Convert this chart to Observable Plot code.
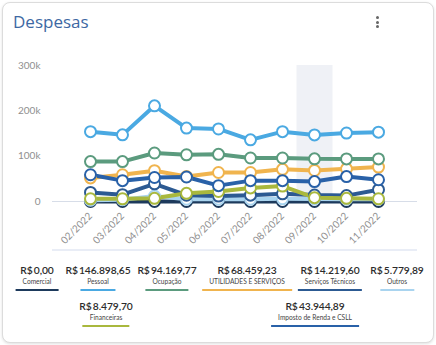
<!DOCTYPE html>
<html><head><meta charset="utf-8">
<script src="https://cdn.jsdelivr.net/npm/d3@7"></script>
<script src="https://cdn.jsdelivr.net/npm/@observablehq/plot@0.6"></script>
<style>
html,body{margin:0;padding:0;background:#fff;}
body{width:436px;height:345px;position:relative;overflow:hidden;font-family:Lato,sans-serif;}
#card{position:absolute;left:2px;top:2px;width:430px;height:339px;border:1px solid #dcdcdc;border-radius:8px;box-shadow:0 1px 3px rgba(0,0,0,0.12);background:#fff;}
#title{position:absolute;left:13px;top:10px;font-family:"Open Sans",sans-serif;font-size:17px;color:#3d68a3;}
#kebab{position:absolute;left:376px;top:16px;width:4px;}
#kebab span{display:block;width:3px;height:3px;border-radius:50%;background:#666;margin-bottom:1.5px;}
#chart{position:absolute;left:0;top:55px;}
#slider{position:absolute;left:52px;top:249px;width:365px;height:2px;background:#e9edf6;}
.item{position:absolute;transform:translateX(-50%);text-align:center;white-space:nowrap;font-size:7px;line-height:9px;}
.val{font-family:Lato,sans-serif;font-size:10.3px;font-weight:600;color:#2b2b2b;line-height:14px;letter-spacing:-0.1px;}
.lab{display:inline-block;font-family:Lato,sans-serif;font-size:6.6px;color:#444;padding:0 7px 3px 7px;margin-top:0px;border-bottom:2px solid;line-height:9px;}
</style></head>
<body>
<div id="card"></div>
<div id="title">Despesas</div>
<div id="kebab"><span></span><span></span><span></span></div>
<div id="chart"></div>
<div id="slider"></div>
<div id="legend"></div>
<script>
const months = ["02/2022","03/2022","04/2022","05/2022","06/2022","07/2022","08/2022","09/2022","10/2022","11/2022"];
const seriesNames = ["Comercial","Pessoal","Ocupação","UTILIDADES E SERVIÇOS","Serviços Técnicos","Outros","Financeiras","Imposto de Renda e CSLL"];
const seriesColors = ["#1d3a5c","#4aa9e2","#5b9b7e","#f0b44e","#2c5a92","#a9d4ef","#a9b83d","#2961a8"];
const comercial   = [0,0,0,0,0,0,0,0,0,0];
const pessoal     = [154000,147000,211000,162000,160000,136000,154000,146898.65,151000,153000];
const ocupacao    = [88000,88000,107000,103000,104000,96000,96000,94169.77,94000,94000];
const utilidades  = [52000,59000,68000,55000,64000,64000,71000,68459.23,72000,76000];
const servicosTec = [20000,15000,39000,14000,12000,14000,17000,14219.60,13000,26000];
const outros      = [3000,4000,12000,5000,5000,5000,6000,5779.89,5000,5000];
const financeiras = [6000,6000,7000,18000,22000,30000,34000,8479.70,7000,6000];
const imposto     = [59000,46000,53000,54000,35000,46000,46000,43944.89,55000,48000];
const legendValues = [0,146898.65,94169.77,68459.23,14219.60,5779.89,8479.70,43944.89];
const highlightMonth = "09/2022";
const yTicks = [0,100000,200000,300000];

const bySeries = {
  "Comercial": comercial, "Pessoal": pessoal, "Ocupação": ocupacao,
  "UTILIDADES E SERVIÇOS": utilidades, "Serviços Técnicos": servicosTec,
  "Outros": outros, "Financeiras": financeiras, "Imposto de Renda e CSLL": imposto
};
const drawOrder = ["Comercial","Outros","Serviços Técnicos","Financeiras","UTILIDADES E SERVIÇOS","Imposto de Renda e CSLL","Ocupação","Pessoal"];
const rows = [];
for (const s of drawOrder) bySeries[s].forEach((v,i)=>rows.push({series:s, month:months[i], value:v}));

const fmtK = d => d===0 ? "0" : (d/1000)+"k";
const chart = Plot.plot({
  width: 436, height: 200,
  marginLeft: 52, marginRight: 19, marginTop: 10, marginBottom: 54,
  style: {fontFamily: "Lato, sans-serif", background: "transparent"},
  x: {type: "point", domain: months, range: [70, 397]},
  y: {domain: [0, 300000]},
  color: {domain: seriesNames, range: seriesColors},
  marks: [
    Plot.ruleX([highlightMonth], {y1: 0, y2: 300000, stroke: "#eff1f6", strokeWidth: 36}),
    Plot.ruleY([0], {stroke: "#d7dde8", strokeWidth: 1}),
    Plot.axisY({ticks: yTicks, tickFormat: fmtK, tickSize: 0, tickPadding: 12, fontSize: 10, fill: "#8f8f8f", label: null}),
    Plot.axisX({tickSize: 0, tickPadding: 13, tickRotate: -45, fontSize: 10, fill: "#8f8f8f", label: null}),
    Plot.line(rows, {x: "month", y: "value", z: "series", stroke: "series", strokeWidth: 4, strokeLinejoin: "round"}),
    Plot.dot(rows, {x: "month", y: "value", stroke: "series", fill: "white", r: 5.5, strokeWidth: 2})
  ]
});
document.getElementById("chart").appendChild(chart);

// legend layout (HTML)
const legendLayout = [[37,263],[98,263],[167,263],[247,263],[330,263],[397,263],[106,299],[315,299]];
const legend = document.getElementById("legend");
seriesNames.forEach((name,i)=>{
  const d = document.createElement("div");
  d.className = "item";
  d.style.left = legendLayout[i][0]+"px";
  d.style.top = legendLayout[i][1]+"px";
  const v = document.createElement("div");
  v.className = "val";
  v.textContent = "R$\u2009" + legendValues[i].toLocaleString("pt-BR",{minimumFractionDigits:2, maximumFractionDigits:2});
  const l = document.createElement("div");
  l.className = "lab";
  l.style.borderBottomColor = seriesColors[i];
  l.textContent = name;
  d.appendChild(v);
  d.appendChild(l);
  legend.appendChild(d);
});
</script>
</body></html>
